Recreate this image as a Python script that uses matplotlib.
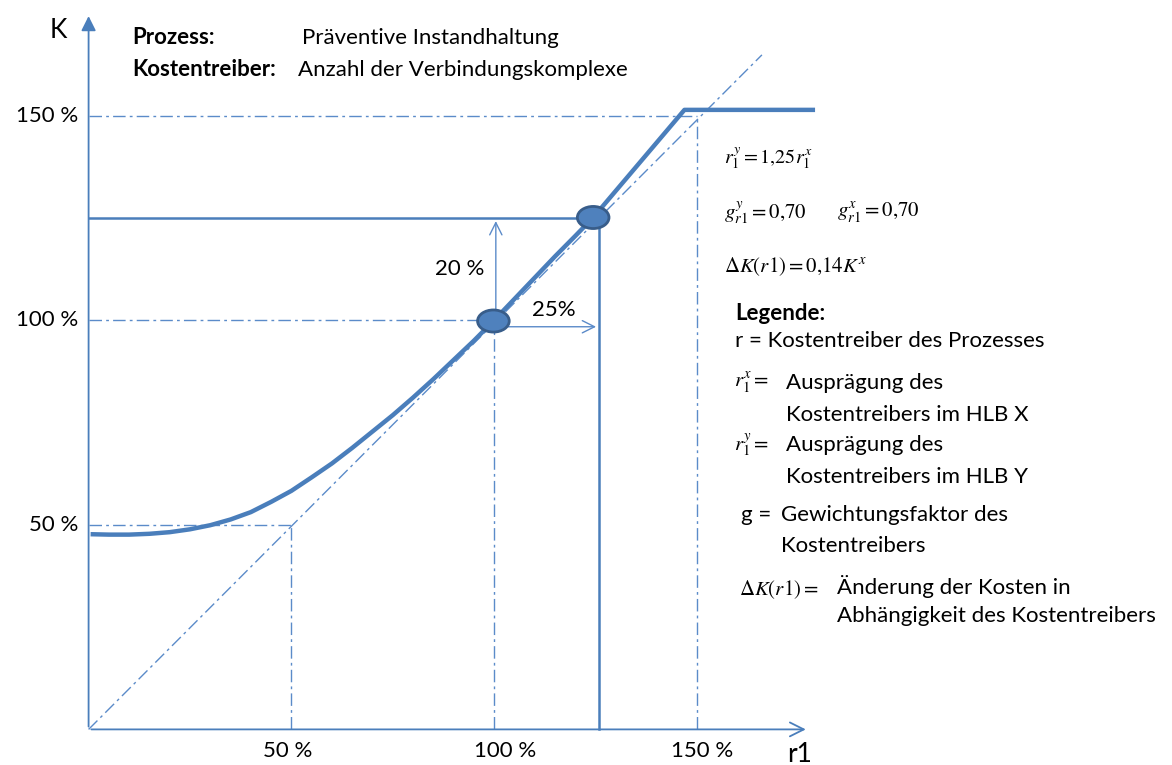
import matplotlib.pyplot as plt
import matplotlib as mpl
from matplotlib.patches import Ellipse

mpl.rcParams['font.family'] = ['Lato', 'DejaVu Sans']
mpl.rcParams['mathtext.fontset'] = 'stix'

W, H = 1172, 765

# cost curve K(r1), both in percent
curve_r = [0.5, 5, 10, 15, 20, 25, 30, 35, 40, 45, 50, 55, 60, 65, 70, 75,
           80, 85, 90, 95, 99.8, 105, 110, 115, 120, 124.4, 146.9, 179.1]
curve_k = [47.7, 47.6, 47.6, 47.8, 48.2, 48.9, 49.9, 51.3, 53.1, 55.6, 58.3,
           61.6, 65.0, 68.8, 72.8, 76.8, 81.1, 85.6, 90.3, 95.0, 99.8,
           105.2, 110.4, 115.6, 120.6, 125.1, 151.4, 151.4]

ref_levels = [50, 100, 150]
tick_labels = ['50 %', '100 %', '150 %']
diag_end = 166

# the two highlighted points (X and Y)
point_r = [99.8, 124.4]
point_k = [99.8, 125.1]
change_r = 125.8   # solid drop line
change_k = 124.9   # solid horizontal line

blue = '#4A7EBB'
light = '#5B8BC9'
dashdot = (0, (9, 3, 2, 3))

fig = plt.figure(figsize=(W / 100, H / 100), dpi=100)
ax = fig.add_axes([0, 0, 1, 1])
ax.set_xlim(-21.84, 267.1)
ax.set_ylim(-8.7, 178.25)
ax.axis('off')


def ftext(x, y, s, **kw):
    # place text by pixel position of the reference
    kw.setdefault('va', 'center')
    kw.setdefault('color', 'black')
    fig.text(x / W, 1 - y / H, s, **kw)


# axes with arrows
ax.annotate('', xy=(0, 175), xytext=(0, 0),
            arrowprops=dict(arrowstyle='-|>', color=blue, lw=1.3, mutation_scale=22))
ax.annotate('', xy=(177.5, 0), xytext=(0, 0),
            arrowprops=dict(arrowstyle='->', color=blue, lw=1.3, mutation_scale=25))

# dash-dot reference lines
ax.plot([0, diag_end], [0, diag_end * 0.993], color=light, lw=1, ls=dashdot)
for lv in ref_levels:
    ax.plot([0, lv], [lv, lv], color=light, lw=1, ls=dashdot)
    ax.plot([lv, lv], [0, lv], color=light, lw=1, ls=dashdot)

# solid helper lines to the second point
ax.plot([0, point_r[1]], [change_k, change_k], color=blue, lw=1.8)
ax.plot([change_r, change_r], [0, point_k[1]], color=blue, lw=1.8)

# cost curve
ax.plot(curve_r, curve_k, color=blue, lw=3.2, solid_capstyle='butt',
        solid_joinstyle='round', zorder=3)

# change arrows
ax.annotate('', xy=(100.4, change_k), xytext=(100.4, 101.5),
            arrowprops=dict(arrowstyle='->', color=light, lw=1, mutation_scale=22))
ax.annotate('', xy=(change_r, 98.4), xytext=(102.5, 98.4),
            arrowprops=dict(arrowstyle='->', color=light, lw=1, mutation_scale=22))

for pr, pk in zip(point_r, point_k):
    ax.add_patch(Ellipse((pr, pk), 7.8, 5.4, facecolor='#4F81BD',
                         edgecolor='#385D8A', lw=2, zorder=5))

# tick labels
for lv, lab in zip(ref_levels, tick_labels):
    ax.text(-2.5, lv, lab, ha='right', va='center', fontsize=16)
x_lab_pos = [49, 102.7, 151.2]
for xp, lab in zip(x_lab_pos, tick_labels):
    ax.text(xp, -5.2, lab, ha='center', va='center', fontsize=16)

ax.text(91.5, 112.4, '20 %', ha='center', va='center', fontsize=16)
ax.text(114.7, 102.4, '25%', ha='center', va='center', fontsize=16)

# axis names
ftext(50, 30, 'K', fontsize=19)
ftext(787, 754, 'r1', fontsize=19)

# header
ftext(132, 38, 'Prozess:', fontsize=16, fontweight='bold')
ftext(302, 38, 'Präventive Instandhaltung', fontsize=16)
ftext(132, 70, 'Kostentreiber:', fontsize=16, fontweight='bold')
ftext(298, 70, 'Anzahl der Verbindungskomplexe', fontsize=16)

# formulas
ftext(724, 158, r'$r_1^y = 1{,}25r_1^x$', fontsize=14.5)
ftext(724, 213, r'$g_{r1}^y = 0{,}70$', fontsize=15)
ftext(837, 213, r'$g_{r1}^x = 0{,}70$', fontsize=15)
ftext(724, 267, r'$\Delta K(r1) = 0{,}14K^x$', fontsize=15)

# legend
ftext(735, 313, 'Legende:', fontsize=16, fontweight='bold')
ftext(735, 341, 'r = Kostentreiber des Prozesses', fontsize=16)
ftext(734, 383, r'$r_1^x =$', fontsize=15)
ftext(786, 383, 'Ausprägung des', fontsize=16)
ftext(786, 415, 'Kostentreibers im HLB X', fontsize=16)
ftext(734, 445, r'$r_1^y =$', fontsize=15)
ftext(786, 445, 'Ausprägung des', fontsize=16)
ftext(786, 477, 'Kostentreibers im HLB Y', fontsize=16)
ftext(741, 515, 'g =', fontsize=16)
ftext(781, 515, 'Gewichtungsfaktor des', fontsize=16)
ftext(781, 546, 'Kostentreibers', fontsize=16)
ftext(739, 590, r'$\Delta K(r1) =$', fontsize=15)
ftext(837, 586, 'Änderung der Kosten in', fontsize=16)
ftext(837, 616, 'Abhängigkeit des Kostentreibers', fontsize=16)

fig.savefig('out.png', dpi=100)
